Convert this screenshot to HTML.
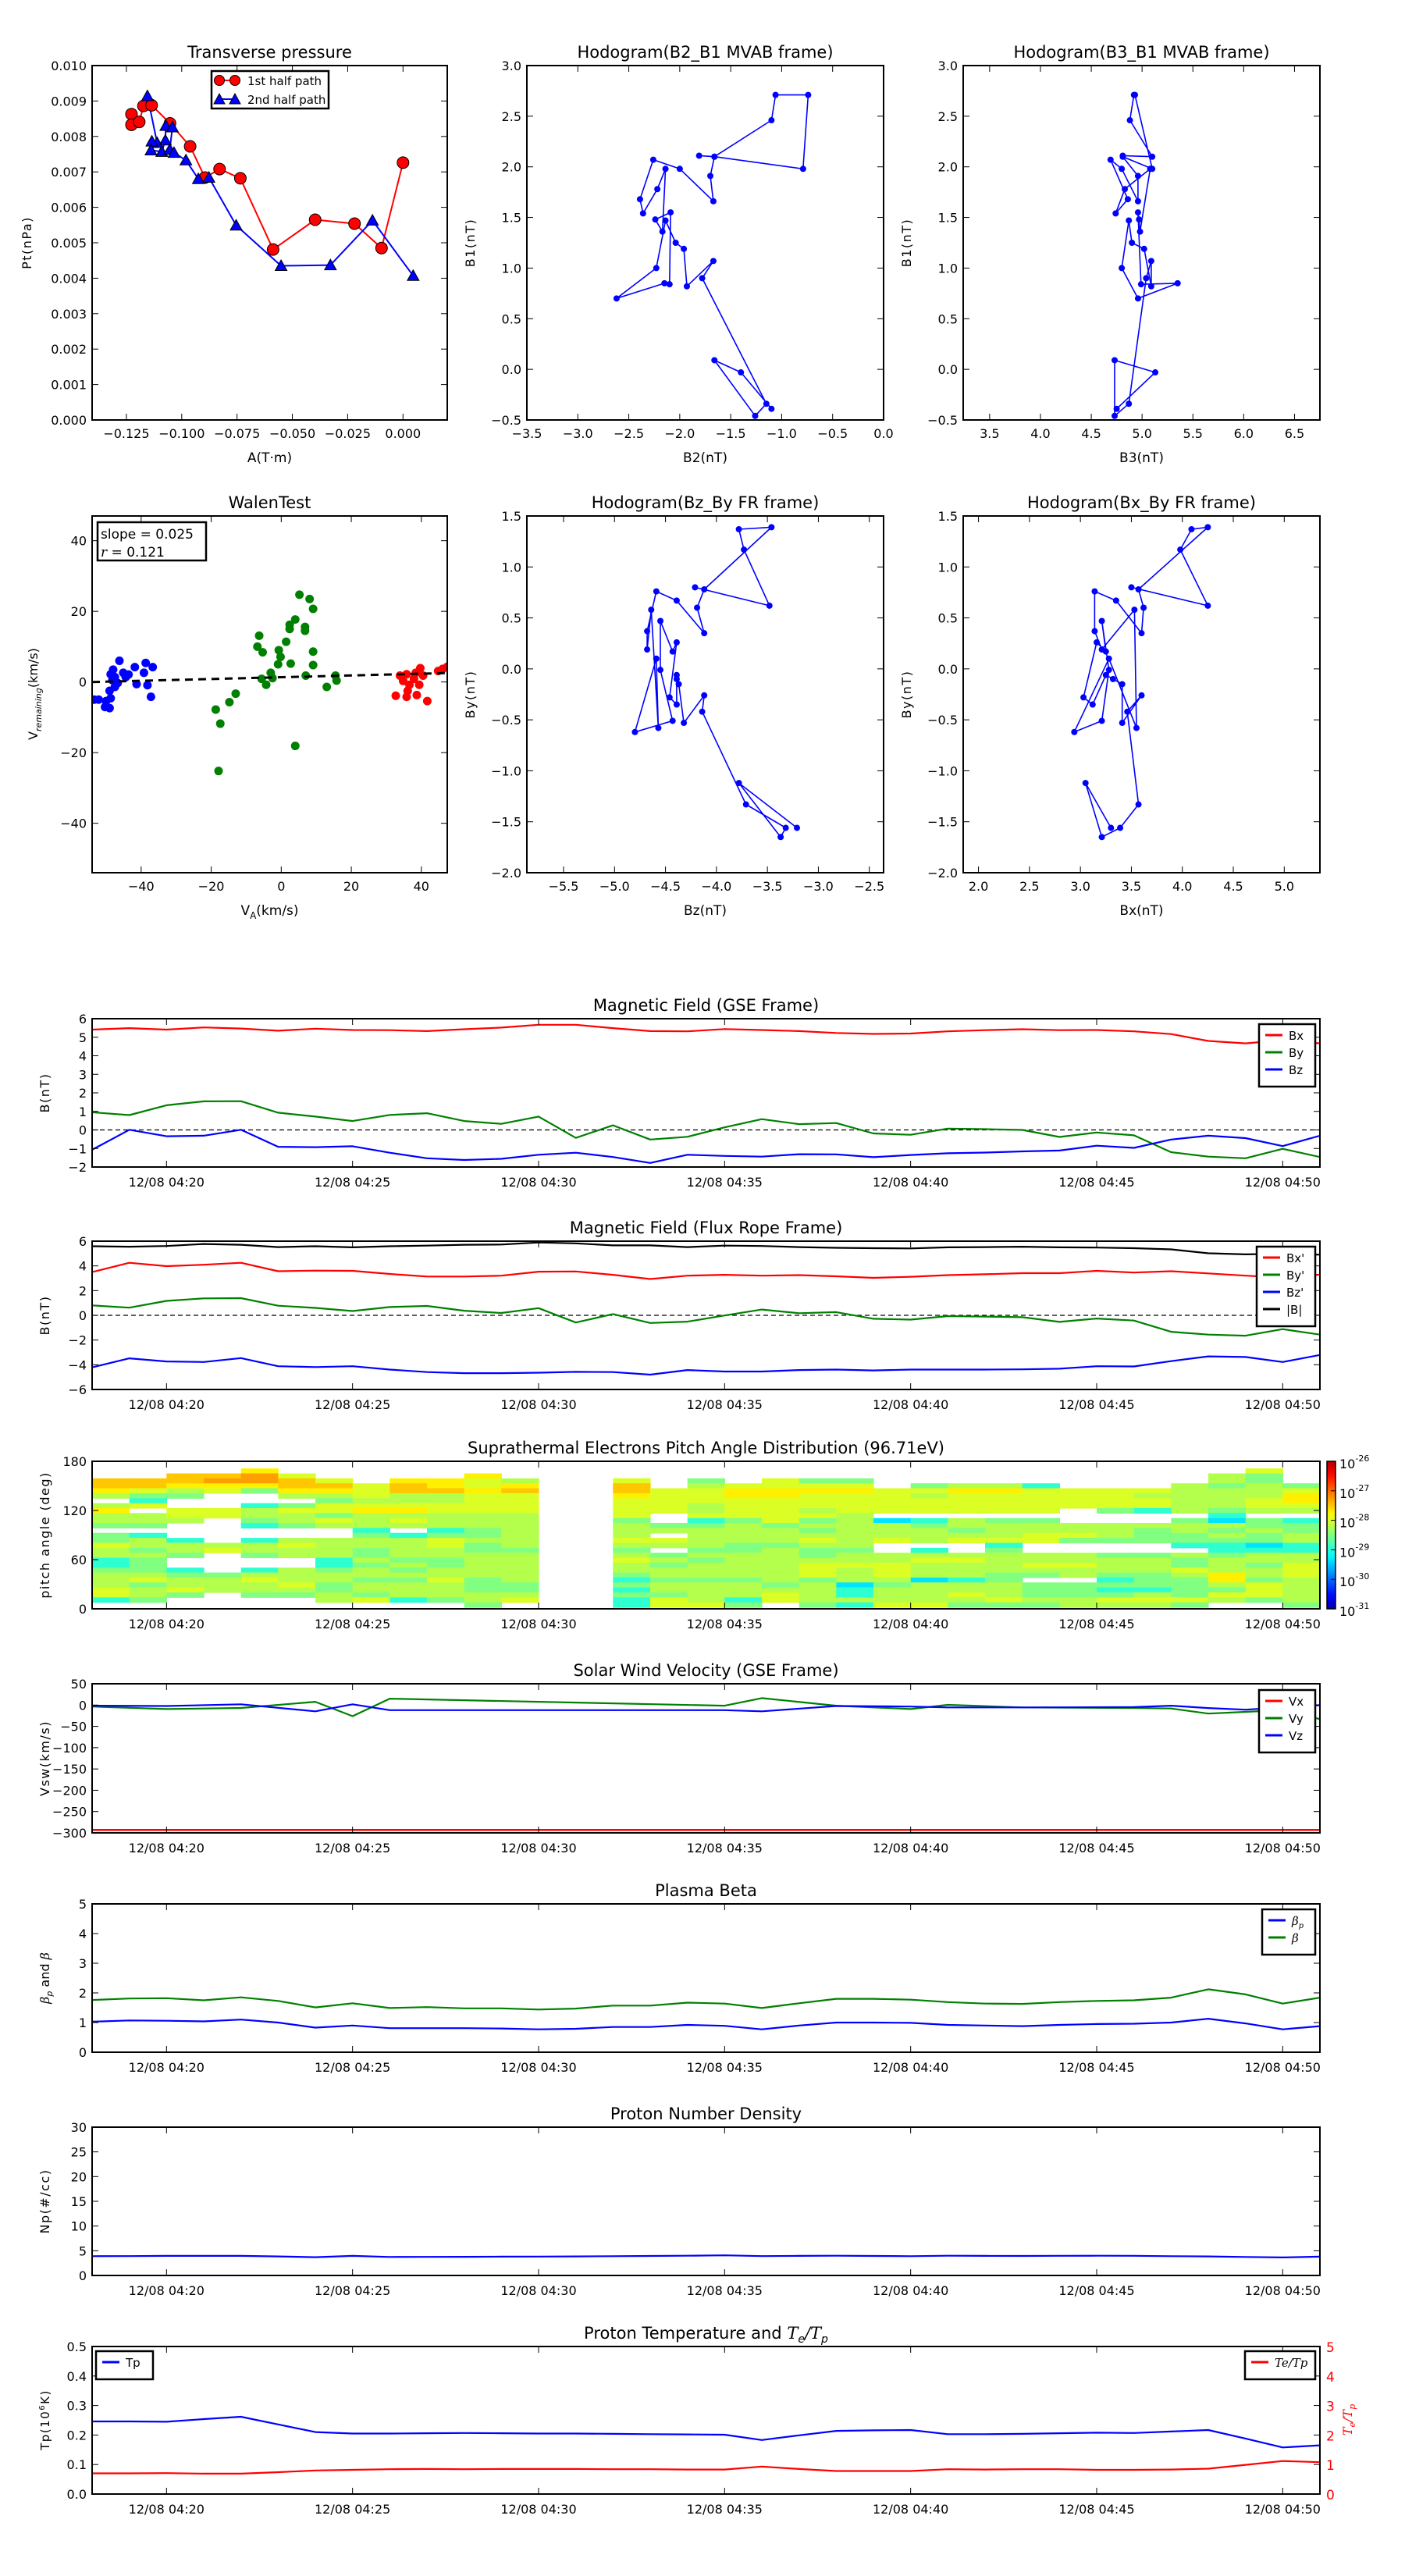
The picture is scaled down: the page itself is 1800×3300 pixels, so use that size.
<!DOCTYPE html>
<html><head><meta charset="utf-8"><title>Flux rope analysis</title>
<style>
html,body{margin:0;padding:0;background:#fff;}
svg{display:block;font-family:"DejaVu Sans","Liberation Sans",sans-serif;}
</style></head>
<body>
<svg id="chart" xmlns="http://www.w3.org/2000/svg" width="1800" height="3300" viewBox="0 0 1800 3300">
<defs id="defs"></defs>
<rect x="0" y="0" width="1800" height="3300" fill="#fff"/>
</svg>
<script>
// ---------- data ----------
const ptA1 = [-0.1227,-0.1227,-0.1192,-0.1173,-0.1136,-0.1053,-0.0962,-0.0895,-0.0829,-0.0735,-0.0587,-0.0397,-0.0219,-0.0097,0.0];
const ptP1 = [0.00863,0.00833,0.00841,0.00886,0.00888,0.00837,0.00772,0.00684,0.00708,0.00682,0.00481,0.00565,0.00554,0.00485,0.00726];
const ptA2 = [-0.1155,-0.1111,-0.1135,-0.1139,-0.1090,-0.1074,-0.1072,-0.1042,-0.1054,-0.1035,-0.0981,-0.0925,-0.0877,-0.0754,-0.0551,-0.0328,-0.0138,0.0046];
const ptP2 = [0.00914,0.00782,0.00786,0.00761,0.00757,0.00789,0.00830,0.00826,0.00763,0.00754,0.00733,0.00680,0.00684,0.00549,0.00435,0.00437,0.00563,0.00407];

const hB2 = [-1.81,-1.66,-1.10,-1.06,-0.74,-0.79,-1.66,-1.70,-1.67,-2.00,-2.26,-2.39,-2.36,-2.22,-2.14,-2.17,-2.24,-2.09,-2.10,-2.15,-2.62,-2.23,-2.14,-2.04,-1.96,-1.93,-1.67,-1.78,-1.15,-1.26,-1.66,-1.40,-1.10];
const hB1 = [2.11,2.10,2.46,2.71,2.71,1.98,2.10,1.91,1.66,1.98,2.07,1.68,1.54,1.78,1.98,1.36,1.48,1.55,0.84,0.85,0.70,1.00,1.47,1.25,1.19,0.82,1.07,0.90,-0.34,-0.46,0.09,-0.03,-0.39];
const hB3 = [4.81,5.10,4.88,4.92,4.93,5.10,4.81,4.96,4.96,4.80,4.69,4.86,4.74,4.83,5.08,4.98,4.97,4.96,4.99,5.35,4.96,4.80,4.87,4.90,5.02,5.09,5.09,5.04,4.87,4.73,4.73,5.13,4.75];

const walenBlueX = [-46.2,-48,-48.7,-45.1,-43.6,-41.8,-38.7,-36.7,-39.2,-41.3,-38.2,-37.2,-48.2,-46.7,-47.5,-49,-53.4,-52.1,-50,-48.7,-50.3,-49,-47.5,-44.4];
const walenBlueY = [6.0,3.5,2.2,2.6,2.1,4.2,5.4,4.2,2.6,-0.6,-0.9,-4.2,0.5,-0.3,-1.4,-2.5,-5,-5,-5.4,-4.6,-7.1,-7.4,1.4,1.4];
const walenGreenX = [5.2,8.1,9.1,4.0,2.4,2.4,6.8,6.8,-6.3,1.4,-6.8,-5.3,-0.7,9.1,-0.2,2.7,9.1,-0.9,-3.0,7.0,15.5,-2.5,-5.6,15.8,-4.3,13.0,-13,-14.8,-18.7,-17.4,4.0,-17.9];
const walenGreenY = [24.7,23.5,20.7,17.7,16.2,15.0,15.6,14.5,13.1,11.4,10.0,8.4,9.0,8.6,7.1,5.2,4.8,5.0,2.6,1.8,1.8,1.1,0.9,0.4,-0.8,-1.4,-3.3,-5.7,-7.8,-11.8,-18.1,-25.2];
const walenRedX = [32.7,35.8,36.1,38.7,41.7,33.9,35.8,37.9,38.4,39.7,36.6,39.4,40.5,44.8,46.1,47.4,34.8];
const walenRedY = [-3.9,-4.2,-2.5,-3.7,-5.4,1.8,2.2,0.9,2.6,3.9,-0.8,-0.8,1.8,3.1,3.7,4.3,0.3];
const walenSlope = 0.025;
const walenIntercept = 1.35;

const tMin = [0,1,2,3,4,5,6,7,8,9,10,11,12,13,14,15,16,17,18,19,20,21,22,23,24,25,26,27,28,29,30,31,32,33];
const gseBx = [5.41,5.49,5.41,5.53,5.47,5.35,5.46,5.39,5.38,5.33,5.43,5.52,5.67,5.67,5.49,5.33,5.32,5.44,5.39,5.33,5.23,5.18,5.2,5.32,5.38,5.43,5.38,5.39,5.32,5.17,4.8,4.67,4.84,4.67];
const gseBy = [0.95,0.80,1.33,1.54,1.55,0.93,0.72,0.48,0.81,0.90,0.48,0.33,0.72,-0.43,0.25,-0.52,-0.37,0.14,0.58,0.31,0.37,-0.19,-0.26,0.07,0.04,0.0,-0.38,-0.14,-0.29,-1.2,-1.44,-1.53,-1.02,-1.46];
const gseBz = [-1.07,0.01,-0.34,-0.31,0.01,-0.91,-0.93,-0.88,-1.23,-1.53,-1.62,-1.56,-1.34,-1.23,-1.46,-1.78,-1.34,-1.40,-1.44,-1.31,-1.32,-1.47,-1.35,-1.26,-1.22,-1.16,-1.11,-0.85,-0.97,-0.52,-0.31,-0.44,-0.87,-0.31];
const frBmag = [5.59,5.55,5.61,5.77,5.71,5.52,5.59,5.5,5.59,5.64,5.71,5.73,5.89,5.82,5.66,5.66,5.52,5.64,5.61,5.52,5.46,5.43,5.41,5.5,5.52,5.55,5.5,5.48,5.43,5.34,5.02,4.93,4.98,4.91];
const frBx = [3.5,4.25,3.98,4.09,4.25,3.57,3.62,3.6,3.35,3.14,3.14,3.21,3.53,3.55,3.28,2.94,3.21,3.28,3.21,3.25,3.16,3.03,3.12,3.25,3.32,3.41,3.41,3.6,3.46,3.57,3.39,3.21,3.05,3.3];
const frBy = [0.8,0.62,1.17,1.37,1.39,0.78,0.6,0.35,0.67,0.76,0.37,0.19,0.58,-0.58,0.1,-0.62,-0.51,-0.01,0.47,0.17,0.26,-0.28,-0.35,-0.06,-0.1,-0.15,-0.53,-0.26,-0.42,-1.33,-1.56,-1.65,-1.12,-1.56];
const frBz = [-4.21,-3.48,-3.73,-3.78,-3.46,-4.12,-4.19,-4.12,-4.39,-4.59,-4.68,-4.68,-4.64,-4.57,-4.59,-4.8,-4.43,-4.55,-4.55,-4.43,-4.39,-4.46,-4.39,-4.39,-4.39,-4.37,-4.32,-4.12,-4.14,-3.71,-3.32,-3.37,-3.78,-3.21];

const padLevels = {C:-29.25,c:-28.9,g:-28.5,l:-28.25,y:-28.05,Y:-27.8,o:-27.6,O:-27.4};
const padColumns = [0,1,2,3,4,5,6,7,8,9,10,11,14,15,16,17,18,19,20,21,22,23,24,25,26,27,28,29,30,31,32];
const padBinStart = 1.9;
const padBinWidth = 6.05;
// rows top (170 deg) to bottom (2 deg); left = minutes 0-11, right = minutes 14-32
const padLeft = [
"....Y.......",
"..ooOy....Y.",
"oooOOoy.YYyl",
"ooYYYooyoYyY",
"YylygYYyooYo",
"lgg..llyllyy",
".c....glllyy",
"ly..cgyyyyyy",
"Y.yylyyYYyyy",
"llyyllglllll",
"lll.glylylll",
"gg..cgllllll",
".......c.cgl",
"gc.....gcggl",
"glc.cllllyll",
"yllllylllygl",
"lglylllgllgg",
"llg.gllgllll",
"cg....clggll",
"cg....cglgll",
"ggc.clglglll",
"llggllllllll",
"lyllyllggygl",
"lglllyglllgg",
"ylylllglllgg",
"ylg.gglgllll",
"cg....lycgly",
"..........g."
];
const padRight = [
".................y.",
"................lg.",
"y.g.ygg.........lg.",
"o.lyyyy.gllc...lglg",
"oyyYYYYyyYYyyyyllly",
"YyyYYyyylyyyyyllllY",
"yyyyyyyyyyyyyyyllyY",
"yylyyyyyyyyyyyyllyy",
"yylyylyyyyyy.gclgll",
"y.yyyyl.........c..",
"g.cgyglCclgg...gCgc",
"lgglglllgllllllllgg",
"lllllglllgllllglglg",
"l.lllllllllyylgglgl",
"yylllylylyyyggggggl",
"lllggll...c....ccCc",
"g.gglgg.c.g.....ccc",
"lglllglllllllgglgll",
"ylglllllyylllllglll",
"lglllyyylllyyllglgy",
"lllllylylllllllylly",
"gllllylyllgglgglYly",
"cggglgllCcg..cggYgl",
"glllglCglllggggglyl",
"clllllcllllggccggyl",
"ggllylcllylggglgyyl",
"cylcylllllyllyyylgl",
"cyyg.gcyyggglllg..g"
];

const vTime = [0,2,4,6,7,8,17,18,20,22,23,25,28,29,30,31,32,33];
const vswVx = [-293,-293,-293,-293,-293,-293,-293,-293,-293,-293,-293,-293,-293,-293,-293,-293,-293,-293];
const vswVy = [-3.5,-9.4,-6.8,7.7,-26,15,-1.5,16.3,-1.5,-9.4,0.5,-5.5,-6.8,-8,-20,-16,-12,-33];
const vswVz = [-1.5,-2.2,1.8,-14.7,1.8,-12,-12,-14.7,-2.2,-3.5,-5.5,-5.5,-4.8,-1.5,-7,-10.8,-5.5,-0.2];

const betaTotal = [1.76,1.81,1.82,1.75,1.85,1.73,1.51,1.65,1.49,1.52,1.48,1.48,1.44,1.47,1.57,1.57,1.67,1.64,1.49,1.65,1.80,1.80,1.77,1.69,1.64,1.63,1.69,1.73,1.75,1.84,2.12,1.95,1.64,1.84];
const betaP = [1.03,1.07,1.06,1.04,1.10,1.0,0.83,0.90,0.81,0.81,0.81,0.80,0.77,0.79,0.85,0.85,0.92,0.89,0.77,0.90,1.0,1.0,0.99,0.92,0.90,0.88,0.92,0.95,0.96,1.0,1.13,0.97,0.77,0.88];
const np = [3.9,3.92,3.97,3.97,3.97,3.85,3.69,3.97,3.75,3.76,3.78,3.8,3.82,3.86,3.9,3.95,4.0,4.08,3.92,3.97,4.0,3.95,3.9,4.0,3.97,3.95,3.98,4.0,3.98,3.9,3.85,3.75,3.65,3.8];
const tp = [0.246,0.246,0.245,0.254,0.262,0.236,0.210,0.205,0.205,0.206,0.207,0.206,0.205,0.205,0.204,0.203,0.202,0.201,0.183,0.199,0.214,0.216,0.217,0.203,0.203,0.204,0.206,0.208,0.207,0.212,0.217,0.188,0.158,0.165];
const teTp = [0.70,0.70,0.71,0.69,0.69,0.74,0.80,0.82,0.84,0.85,0.84,0.85,0.85,0.85,0.84,0.84,0.83,0.83,0.93,0.85,0.78,0.78,0.78,0.84,0.83,0.84,0.84,0.82,0.82,0.83,0.86,0.99,1.12,1.08];

const timeTicks = [2,7,12,17,22,27,32];

// ---------- helpers ----------
const NS = 'http://www.w3.org/2000/svg';
const svg = document.getElementById('chart');
const defs = document.getElementById('defs');
function mk(tag, attrs, parent){
  const e = document.createElementNS(NS, tag);
  for (const k in attrs) e.setAttribute(k, attrs[k]);
  (parent || svg).appendChild(e);
  return e;
}
function named(el, name){
  
  
  return el;
}
function fmt(v, d){
  if (Math.abs(v) < 1e-9) v = 0;
  return (v < 0 ? '\u2212' : '') + Math.abs(v).toFixed(d);
}
function timeLabel(m){
  const tot = 18 + m;
  return '12/08 04:' + String(tot).padStart(2, '0');
}
function txt(parent, x, y, s, size, anchor, name){
  const t = mk('text', {x:x, y:y, 'font-size':size, 'text-anchor':anchor || 'middle', fill:'#000'}, parent);
  t.textContent = s;
  named(t, name);
  return t;
}

function panel(o){
  const g = mk('g', {});
  named(g, o.name);
  const sx = v => o.x0 + (v - o.xr[0]) / (o.xr[1] - o.xr[0]) * (o.x1 - o.x0);
  const sy = v => o.y1 - (v - o.yr[0]) / (o.yr[1] - o.yr[0]) * (o.y1 - o.y0);
  const cp = mk('clipPath', {id: o.name + '-clip'}, defs);
  mk('rect', {x:o.x0, y:o.y0, width:o.x1 - o.x0, height:o.y1 - o.y0}, cp);
  const data = mk('g', {'clip-path':'url(#' + o.name + '-clip)'}, g);
  named(data, o.name + '-plot-area');
  return {g, data, sx, sy, o};
}
function frame(P){
  const o = P.o, g = P.g;
  const ax = mk('g', {}, g);
  named(ax, o.name + '-axes');
  (o.xt || []).forEach(v => {
    const x = P.sx(v);
    const t1 = mk('line', {x1:x, y1:o.y1, x2:x, y2:o.y1 - 8, stroke:'#000', 'stroke-width':1}, ax);
    named(t1, 'x-tick');
    const t2 = mk('line', {x1:x, y1:o.y0, x2:x, y2:o.y0 + 8, stroke:'#000', 'stroke-width':1}, ax);
    named(t2, 'x-tick-top');
    txt(ax, x, o.y1 + (o.xlDy || 23), o.xf(v), 16, 'middle', 'x-tick-label');
  });
  (o.yt || []).forEach(v => {
    const y = P.sy(v);
    const t1 = mk('line', {x1:o.x0, y1:y, x2:o.x0 + 8, y2:y, stroke:'#000', 'stroke-width':1}, ax);
    named(t1, 'y-tick');
    const t2 = mk('line', {x1:o.x1, y1:y, x2:o.x1 - 8, y2:y, stroke:'#000', 'stroke-width':1}, ax);
    named(t2, 'y-tick-right');
    txt(ax, o.x0 - 7, y + 6, o.yf(v), 16, 'end', 'y-tick-label');
  });
  const r = mk('rect', {x:o.x0, y:o.y0, width:o.x1 - o.x0, height:o.y1 - o.y0, fill:'none', stroke:'#000', 'stroke-width':2}, g);
  named(r, o.name + '-frame');
  if (o.title) txt(g, (o.x0 + o.x1) / 2, o.y0 - 10, o.title, 21, 'middle', o.name + '-title');
  if (o.xlabel) txt(g, (o.x0 + o.x1) / 2, o.y1 + 54, o.xlabel, 17, 'middle', 'x-axis-title');
  if (o.ylabel) {
    const cx = o.x0 - o.ylOff, cy = (o.y0 + o.y1) / 2;
    const t = txt(g, cx, cy, o.ylabel, 16, 'middle', 'y-axis-title');
    t.setAttribute('transform', 'rotate(-90 ' + cx + ' ' + cy + ')');
    t.setAttribute('letter-spacing', '1.5');
  }
}
function line(P, xs, ys, color, w, name, dash){
  const pts = xs.map((x, i) => P.sx(x).toFixed(1) + ',' + P.sy(ys[i]).toFixed(1)).join(' ');
  const a = {points:pts, fill:'none', stroke:color, 'stroke-width':w, 'stroke-linejoin':'round'};
  if (dash) a['stroke-dasharray'] = dash;
  const p = mk('polyline', a, P.data);
  named(p, name);
  return p;
}
function dots(P, xs, ys, color, r, name, edge){
  xs.forEach((x, i) => {
    const c = mk('circle', {cx:P.sx(x), cy:P.sy(ys[i]), r:r, fill:color, stroke:edge || 'none', 'stroke-width':1}, P.data);
    named(c, name);
  });
}
function tris(P, xs, ys, color, s, name){
  xs.forEach((x, i) => {
    const cx = P.sx(x), cy = P.sy(ys[i]);
    const p = mk('polygon', {points:(cx) + ',' + (cy - s) + ' ' + (cx - s) + ',' + (cy + s * 0.8) + ' ' + (cx + s) + ',' + (cy + s * 0.8), fill:color, stroke:'#000', 'stroke-width':1}, P.data);
    named(p, name);
  });
}
function legend(parent, x, y, w, entries, name){
  const g = mk('g', {}, parent);
  named(g, name);
  const h = entries.length * 22 + 14;
  const r = mk('rect', {x:x, y:y, width:w, height:h, fill:'#fff', stroke:'#000', 'stroke-width':2.5}, g);
  named(r, 'legend-box');
  entries.forEach((e, i) => {
    const yy = y + 14 + i * 22;
    const l = mk('line', {x1:x + 8, y1:yy, x2:x + 30, y2:yy, stroke:e[1], 'stroke-width':3}, g);
    named(l, 'legend-swatch');
    const t = txt(g, x + 38, yy + 6, e[0], 15, 'start', 'legend-entry');
    if (e[2]) { t.setAttribute('font-style', 'italic'); t.setAttribute('font-family', '"DejaVu Serif","Liberation Serif",serif'); }
  });
  return g;
}

// ---------- Transverse pressure ----------
{
  const P = panel({name:'transverse-pressure', x0:118, y0:84, x1:573, y1:538, xr:[-0.1405,0.02], yr:[0,0.01],
    xt:[-0.125,-0.1,-0.075,-0.05,-0.025,0], xf:v => fmt(v,3), yt:[0,0.001,0.002,0.003,0.004,0.005,0.006,0.007,0.008,0.009,0.01], yf:v => v.toFixed(3),
    title:'Transverse pressure', xlabel:'A(T\u00b7m)', ylabel:'Pt(nPa)', ylOff:78});
  line(P, ptA1, ptP1, '#ff0000', 2, 'first-half-path-line');
  line(P, ptA2, ptP2, '#0000ff', 2, 'second-half-path-line');
  dots(P, ptA1, ptP1, '#ff0000', 7.5, 'first-half-marker', '#000');
  tris(P, ptA2, ptP2, '#0000ff', 7.5, 'second-half-marker');
  frame(P);
  const lg = mk('g', {}, P.g);
  named(lg, 'pressure-legend');
  const lr = mk('rect', {x:271, y:91, width:150, height:48, fill:'#fff', stroke:'#000', 'stroke-width':2.5}, lg);
  named(lr, 'legend-box');
  const l1 = mk('line', {x1:281, y1:103, x2:301, y2:103, stroke:'#f00', 'stroke-width':2}, lg);
  named(l1, 'legend-swatch');
  [281,301].forEach(cx => { const c = mk('circle', {cx:cx, cy:103, r:6.5, fill:'#f00', stroke:'#000', 'stroke-width':1}, lg); named(c, 'legend-marker'); });
  txt(lg, 317, 109, '1st half path', 15, 'start', 'legend-entry');
  const l2 = mk('line', {x1:281, y1:127, x2:301, y2:127, stroke:'#00f', 'stroke-width':2}, lg);
  named(l2, 'legend-swatch');
  [281,301].forEach(cx => { const p = mk('polygon', {points:cx + ',' + 120 + ' ' + (cx - 7) + ',' + 133 + ' ' + (cx + 7) + ',' + 133, fill:'#00f', stroke:'#000', 'stroke-width':1}, lg); named(p, 'legend-marker'); });
  txt(lg, 317, 133, '2nd half path', 15, 'start', 'legend-entry');
}
// ---------- Hodograms MVAB ----------
{
  const P = panel({name:'hodogram-b2-b1', x0:675, y0:84, x1:1132, y1:538, xr:[-3.5,0], yr:[-0.5,3],
    xt:[-3.5,-3,-2.5,-2,-1.5,-1,-0.5,0], xf:v => fmt(v,1), yt:[-0.5,0,0.5,1,1.5,2,2.5,3], yf:v => fmt(v,1),
    title:'Hodogram(B2_B1 MVAB frame)', xlabel:'B2(nT)', ylabel:'B1(nT)', ylOff:67});
  line(P, hB2, hB1, '#0000ff', 1.6, 'hodogram-path');
  dots(P, hB2, hB1, '#0000ff', 4, 'hodogram-point');
  frame(P);
}
{
  const P = panel({name:'hodogram-b3-b1', x0:1234, y0:84, x1:1691, y1:538, xr:[3.24,6.75], yr:[-0.5,3],
    xt:[3.5,4,4.5,5,5.5,6,6.5], xf:v => fmt(v,1), yt:[-0.5,0,0.5,1,1.5,2,2.5,3], yf:v => fmt(v,1),
    title:'Hodogram(B3_B1 MVAB frame)', xlabel:'B3(nT)', ylabel:'B1(nT)', ylOff:67});
  line(P, hB3, hB1, '#0000ff', 1.6, 'hodogram-path');
  dots(P, hB3, hB1, '#0000ff', 4, 'hodogram-point');
  frame(P);
}
// ---------- Walen test ----------
{
  const P = panel({name:'walen-test', x0:118, y0:661, x1:573, y1:1118, xr:[-54,47.4], yr:[-54,47],
    xt:[-40,-20,0,20,40], xf:v => fmt(v,0), yt:[-40,-20,0,20,40], yf:v => fmt(v,0),
    title:'WalenTest', ylOff:70});
  dots(P, walenBlueX, walenBlueY, '#0000ff', 5.5, 'walen-point-blue');
  dots(P, walenGreenX, walenGreenY, '#008000', 5.5, 'walen-point-green');
  dots(P, walenRedX, walenRedY, '#ff0000', 5.5, 'walen-point-red');
  const fx = [-54, 47.4];
  line(P, fx, fx.map(x => walenSlope * x + walenIntercept), '#000', 3, 'walen-fit-line', '10,7');
  frame(P);
  const xl = mk('text', {x:345.5, y:1172, 'font-size':17, 'text-anchor':'middle'}, P.g);
  named(xl, 'x-axis-title');
  xl.innerHTML = 'V<tspan font-size="12" dy="5">A</tspan><tspan dy="-5">(km/s)</tspan>';
  const yl = mk('text', {x:48, y:889, 'font-size':16, 'text-anchor':'middle', transform:'rotate(-90 48 889)'}, P.g);
  named(yl, 'y-axis-title');
  yl.innerHTML = 'V<tspan font-size="11" dy="5" font-style="italic">remaining</tspan><tspan dy="-5">(km/s)</tspan>';
  const bx = mk('g', {}, P.g);
  named(bx, 'walen-stats-box');
  const br = mk('rect', {x:125, y:669, width:139, height:49, fill:'#fff', stroke:'#000', 'stroke-width':2.5}, bx);
  named(br, 'stats-box-frame');
  txt(bx, 129, 690, 'slope = ' + walenSlope.toFixed(3), 17, 'start', 'slope-text');
  const rt = mk('text', {x:129, y:713, 'font-size':17}, bx);
  named(rt, 'correlation-text');
  rt.innerHTML = '<tspan font-style="italic" font-family="DejaVu Serif,serif">r</tspan> = 0.121';
}
// ---------- FR hodograms ----------
{
  const P = panel({name:'hodogram-bz-by', x0:675, y0:661, x1:1132, y1:1118, xr:[-5.86,-2.36], yr:[-2,1.5],
    xt:[-5.5,-5,-4.5,-4,-3.5,-3,-2.5], xf:v => fmt(v,1), yt:[-2,-1.5,-1,-0.5,0,0.5,1,1.5], yf:v => fmt(v,1),
    title:'Hodogram(Bz_By FR frame)', xlabel:'Bz(nT)', ylabel:'By(nT)', ylOff:67});
  line(P, frBz, frBy, '#0000ff', 1.6, 'hodogram-path');
  dots(P, frBz, frBy, '#0000ff', 4, 'hodogram-point');
  frame(P);
}
{
  const P = panel({name:'hodogram-bx-by', x0:1234, y0:661, x1:1691, y1:1118, xr:[1.85,5.35], yr:[-2,1.5],
    xt:[2,2.5,3,3.5,4,4.5,5], xf:v => fmt(v,1), yt:[-2,-1.5,-1,-0.5,0,0.5,1,1.5], yf:v => fmt(v,1),
    title:'Hodogram(Bx_By FR frame)', xlabel:'Bx(nT)', ylabel:'By(nT)', ylOff:67});
  line(P, frBx, frBy, '#0000ff', 1.6, 'hodogram-path');
  dots(P, frBx, frBy, '#0000ff', 4, 'hodogram-point');
  frame(P);
}
// ---------- time series ----------
function tsPanel(name, y0, y1, yr, yt, yf, title, ylabel){
  return panel({name:name, x0:118, y0:y0, x1:1691, y1:y1, xr:[0,33], yr:yr, xt:timeTicks, xf:timeLabel, xlDy:25,
    yt:yt, yf:yf, title:title, ylabel:ylabel, ylOff:55});
}
{
  const P = tsPanel('magnetic-field-gse', 1305, 1495, [-2,6], [-2,-1,0,1,2,3,4,5,6], v => fmt(v,0), 'Magnetic Field (GSE Frame)', 'B(nT)');
  line(P, [0,33], [0,0], '#000', 1.2, 'zero-line', '6,4');
  line(P, tMin, gseBx, '#ff0000', 2.2, 'bx-line');
  line(P, tMin, gseBy, '#008000', 2.2, 'by-line');
  line(P, tMin, gseBz, '#0000ff', 2.2, 'bz-line');
  frame(P);
  legend(P.g, 1613, 1312, 72, [['Bx','#f00'],['By','#008000'],['Bz','#00f']], 'gse-legend');
}
{
  const P = tsPanel('magnetic-field-fr', 1590, 1780, [-6,6], [-6,-4,-2,0,2,4,6], v => fmt(v,0), 'Magnetic Field (Flux Rope Frame)', 'B(nT)');
  line(P, [0,33], [0,0], '#000', 1.2, 'zero-line', '6,4');
  line(P, tMin, frBmag, '#000', 2.2, 'bmag-line');
  line(P, tMin, frBx, '#ff0000', 2.2, 'bx-prime-line');
  line(P, tMin, frBy, '#008000', 2.2, 'by-prime-line');
  line(P, tMin, frBz, '#0000ff', 2.2, 'bz-prime-line');
  frame(P);
  legend(P.g, 1610, 1597, 75, [["Bx'",'#f00'],["By'",'#008000'],["Bz'",'#00f'],['|B|','#000']], 'fr-legend');
}
function jet(p){
  const c = v => Math.round(255 * Math.max(0, Math.min(1, v)));
  return 'rgb(' + c(1.5 - Math.abs(4 * p - 3)) + ',' + c(1.5 - Math.abs(4 * p - 2)) + ',' + c(1.5 - Math.abs(4 * p - 1)) + ')';
}
{
  const P = tsPanel('pitch-angle-distribution', 1872, 2061, [0,180], [0,60,120,180], v => String(v), 'Suprathermal Electrons Pitch Angle Distribution (96.71eV)', 'pitch angle (deg)');
  const nRows = padLeft.length;
  for (let ri = 0; ri < nRows; ri++) {
    const row = padLeft[ri] + padRight[ri];
    const k = nRows - 1 - ri;
    const a0 = padBinStart + padBinWidth * k, a1 = a0 + padBinWidth;
    for (let ci = 0; ci < padColumns.length; ci++) {
      const ch = row[ci];
      if (!ch || !(ch in padLevels)) continue;
      const m = padColumns[ci];
      const v = padLevels[ch];
      const x0 = P.sx(m), x1 = P.sx(m + 1), y0 = P.sy(a1), y1 = P.sy(a0);
      const r = mk('rect', {x:x0.toFixed(1), y:y0.toFixed(1), width:(x1 - x0 + 0.6).toFixed(1), height:(y1 - y0 + 0.6).toFixed(1), fill:jet((v + 31) / 5)}, P.data);
      
      
    }
  }
  frame(P);
  const cb = mk('g', {}, svg);
  named(cb, 'colorbar');
  const grad = mk('linearGradient', {id:'jetgrad', x1:'0', y1:'1', x2:'0', y2:'0'}, defs);
  for (let i = 0; i <= 20; i++) { mk('stop', {offset:(i / 20), 'stop-color':jet(0.05 + 0.9 * i / 20)}, grad); }
  const cr = mk('rect', {x:1700, y:1872, width:11, height:189, fill:'url(#jetgrad)', stroke:'#000', 'stroke-width':1.5}, cb);
  named(cr, 'colorbar-gradient');
  [-26,-27,-28,-29,-30,-31].forEach((e, i) => {
    const y = 1872 + i * 189 / 5;
    const tl = mk('line', {x1:1705, y1:y, x2:1711, y2:y, stroke:'#000', 'stroke-width':1}, cb);
    named(tl, 'colorbar-tick');
    const t = mk('text', {x:1716, y:y + 9, 'font-size':16}, cb);
    named(t, 'colorbar-label');
    t.innerHTML = '10<tspan font-size="11" dy="-9">' + e + '</tspan>';
  });
}
{
  const P = tsPanel('solar-wind-velocity', 2157, 2348, [-300,50], [-300,-250,-200,-150,-100,-50,0,50], v => fmt(v,0), 'Solar Wind Velocity (GSE Frame)', 'Vsw(km/s)');
  line(P, vTime, vswVx, '#ff0000', 2.5, 'vx-line');
  line(P, vTime, vswVy, '#008000', 2.2, 'vy-line');
  line(P, vTime, vswVz, '#0000ff', 2.2, 'vz-line');
  frame(P);
  legend(P.g, 1613, 2165, 72, [['Vx','#f00'],['Vy','#008000'],['Vz','#00f']], 'vsw-legend');
}
{
  const P = tsPanel('plasma-beta', 2439, 2629, [0,5], [0,1,2,3,4,5], v => String(v), 'Plasma Beta', '');
  line(P, tMin, betaTotal, '#008000', 2.2, 'beta-line');
  line(P, tMin, betaP, '#0000ff', 2.2, 'beta-p-line');
  frame(P);
  const lg = legend(P.g, 1617, 2446, 68, [['','#00f'],['','#008000']], 'beta-legend');
  const b1 = mk('text', {x:1655, y:2466, 'font-size':15, 'font-style':'italic', 'font-family':'DejaVu Serif,serif'}, lg);
  named(b1, 'legend-entry');
  b1.innerHTML = '\u03b2<tspan font-size="10" dy="4">p</tspan>';
  const b2 = mk('text', {x:1655, y:2488, 'font-size':15, 'font-style':'italic', 'font-family':'DejaVu Serif,serif'}, lg);
  named(b2, 'legend-entry');
  b2.textContent = '\u03b2';
  const yl = mk('text', {x:63, y:2534, 'font-size':16, 'text-anchor':'middle', transform:'rotate(-90 63 2534)'}, P.g);
  named(yl, 'y-axis-title');
  yl.innerHTML = '<tspan font-style="italic" font-family="DejaVu Serif,serif">\u03b2</tspan><tspan font-size="11" dy="4" font-style="italic">p</tspan><tspan dy="-4"> and </tspan><tspan font-style="italic" font-family="DejaVu Serif,serif">\u03b2</tspan>';
}
{
  const P = tsPanel('proton-density', 2725, 2915, [0,30], [0,5,10,15,20,25,30], v => String(v), 'Proton Number Density', 'Np(#/cc)');
  line(P, tMin, np, '#0000ff', 2.2, 'np-line');
  frame(P);
}
{
  const P = tsPanel('proton-temperature', 3006, 3195, [0,0.5], [0,0.1,0.2,0.3,0.4,0.5], v => v.toFixed(1), '', '');
  const syR = v => 3195 - v / 5 * (3195 - 3006);
  line(P, tMin, tp, '#0000ff', 2.2, 'tp-line');
  const pts = tMin.map((m, i) => P.sx(m).toFixed(1) + ',' + syR(teTp[i]).toFixed(1)).join(' ');
  const rl = mk('polyline', {points:pts, fill:'none', stroke:'#ff0000', 'stroke-width':2.2}, P.data);
  named(rl, 'te-tp-line');
  frame(P);
  [0,1,2,3,4,5].forEach(v => {
    const t = txt(P.g, 1699, syR(v) + 7, String(v), 17, 'start', 'right-y-tick-label');
    t.setAttribute('fill', '#f00');
  });
  const title = mk('text', {x:904.5, y:2996, 'font-size':21, 'text-anchor':'middle'}, P.g);
  named(title, 'proton-temperature-title');
  title.innerHTML = 'Proton Temperature and <tspan font-style="italic" font-family="DejaVu Serif,serif">T</tspan><tspan font-size="14" dy="5" font-style="italic">e</tspan><tspan dy="-5" font-style="italic" font-family="DejaVu Serif,serif">/T</tspan><tspan font-size="14" dy="5" font-style="italic">p</tspan>';
  const yl = mk('text', {x:63, y:3100, 'font-size':15, 'text-anchor':'middle', transform:'rotate(-90 63 3100)', 'letter-spacing':'1.5'}, P.g);
  named(yl, 'y-axis-title');
  yl.innerHTML = 'Tp(10<tspan font-size="10" dy="-6">6</tspan><tspan dy="6">K)</tspan>';
  const yr = mk('text', {x:1732, y:3100, 'font-size':16, 'text-anchor':'middle', fill:'#f00', 'font-style':'italic', 'font-family':'DejaVu Serif,serif', transform:'rotate(-90 1732 3100)'}, P.g);
  named(yr, 'right-y-axis-title');
  yr.innerHTML = 'T<tspan font-size="11" dy="4">e</tspan><tspan dy="-4">/T</tspan><tspan font-size="11" dy="4">p</tspan>';
  legend(P.g, 123, 3012, 73, [['Tp','#00f']], 'tp-legend');
  legend(P.g, 1595, 3012, 90, [['Te/Tp','#f00',1]], 'te-tp-legend');
}
</script>
</body></html>
